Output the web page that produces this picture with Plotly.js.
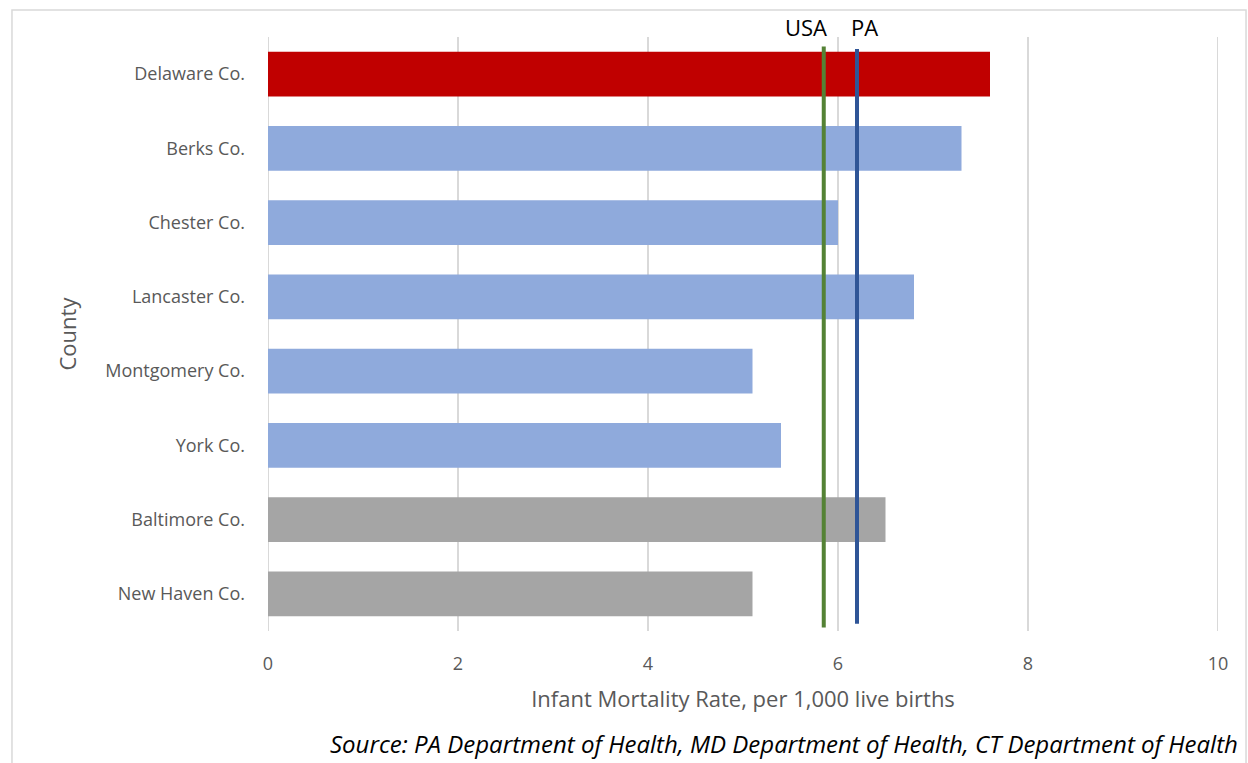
<!DOCTYPE html>
<html>
<head>
<meta charset="utf-8">
<script src="https://cdn.plot.ly/plotly-3.0.1.min.js"></script>
<style>html,body{margin:0;padding:0;background:#fff;}#chart{width:1248px;height:763px;}</style>
</head>
<body>
<div id="chart"></div>
<script>
const counties = ["Delaware Co.", "Berks Co.", "Chester Co.", "Lancaster Co.", "Montgomery Co.", "York Co.", "Baltimore Co.", "New Haven Co."];
const rates = [7.6, 7.3, 6.0, 6.8, 5.1, 5.4, 6.5, 5.1];
const barColors = ["#C00000", "#8FAADC", "#8FAADC", "#8FAADC", "#8FAADC", "#8FAADC", "#A5A5A5", "#A5A5A5"];
const refNames = ["USA", "PA"];
const refValues = [5.85, 6.2];
const refColors = ["#548235", "#2F5597"];
const xTicks = [0, 2, 4, 6, 8, 10];

const font = "'Open Sans', Lato, sans-serif";

const bar = {
  type: "bar",
  orientation: "h",
  y: counties,
  x: rates,
  marker: {color: barColors, line: {width: 0}},
  hoverinfo: "x+y",
  showlegend: false
};

const shapes = [
  {type: "rect", xref: "paper", yref: "paper", x0: -0.2695, x1: 1.0295, y0: -0.23, y1: 1.0454,
   line: {color: "#D9D9D9", width: 1.5}, fillcolor: "rgba(0,0,0,0)", layer: "below"}
];
// vertical gridlines at the axis ends (0 and 10)
[xTicks[0], xTicks[xTicks.length - 1]].forEach(v => {
  shapes.push({type: "line", xref: "x", yref: "paper", x0: v, x1: v, y0: 0, y1: 1,
    line: {color: "#D9D9D9", width: 2}, layer: "below"});
});
const annotations = [];
refValues.forEach((v, i) => {
  shapes.push({type: "line", xref: "x", yref: "paper", x0: v, x1: v, y0: i === 0 ? 0.006 : 0.012, y1: i === 0 ? 0.984 : 0.98,
    line: {color: refColors[i], width: 4}});
  annotations.push({xref: "x", yref: "paper", x: v, y: 1.0, yanchor: "bottom", xanchor: i === 0 ? "right" : "left",
    xshift: i === 0 ? 5 : -8, yshift: -7,
    text: refNames[i], showarrow: false, font: {family: font, size: 22, color: "#000"}});
});
annotations.push({xref: "paper", yref: "paper", x: 1.0235, y: -0.19, xanchor: "right", yanchor: "middle",
  text: "<i>Source: PA Department of Health, MD Department of Health, CT Department of Health</i>",
  showarrow: false, font: {family: font, size: 24, color: "#000"}});

const layout = {
  width: 1248, height: 763,
  margin: {l: 268, r: 30, t: 37, b: 132},
  paper_bgcolor: "#fff", plot_bgcolor: "#fff",
  bargap: 0.395,
  font: {family: font, color: "#595959"},
  xaxis: {
    range: [0, 10], tickvals: xTicks, ticktext: xTicks.map(String),
    showgrid: true, gridcolor: "#D9D9D9", gridwidth: 2,
    zeroline: false, showline: false, ticks: "",
    ticklabelstandoff: 20,
    tickfont: {family: font, size: 18, color: "#595959"},
    title: {text: "Infant Mortality Rate, per 1,000 live births", font: {family: font, size: 22, color: "#595959"}, standoff: 17},
    fixedrange: true
  },
  yaxis: {
    autorange: "reversed", type: "category",
    showgrid: false, zeroline: false, showline: false, ticks: "",
    ticklabelstandoff: 22,
    tickfont: {family: font, size: 18, color: "#595959"},
    title: {text: "County", font: {family: font, size: 22, color: "#595959"}, standoff: 22},
    fixedrange: true
  },
  shapes: shapes,
  annotations: annotations
};

Plotly.newPlot("chart", [bar], layout, {displayModeBar: false, staticPlot: true});
</script>
</body>
</html>
